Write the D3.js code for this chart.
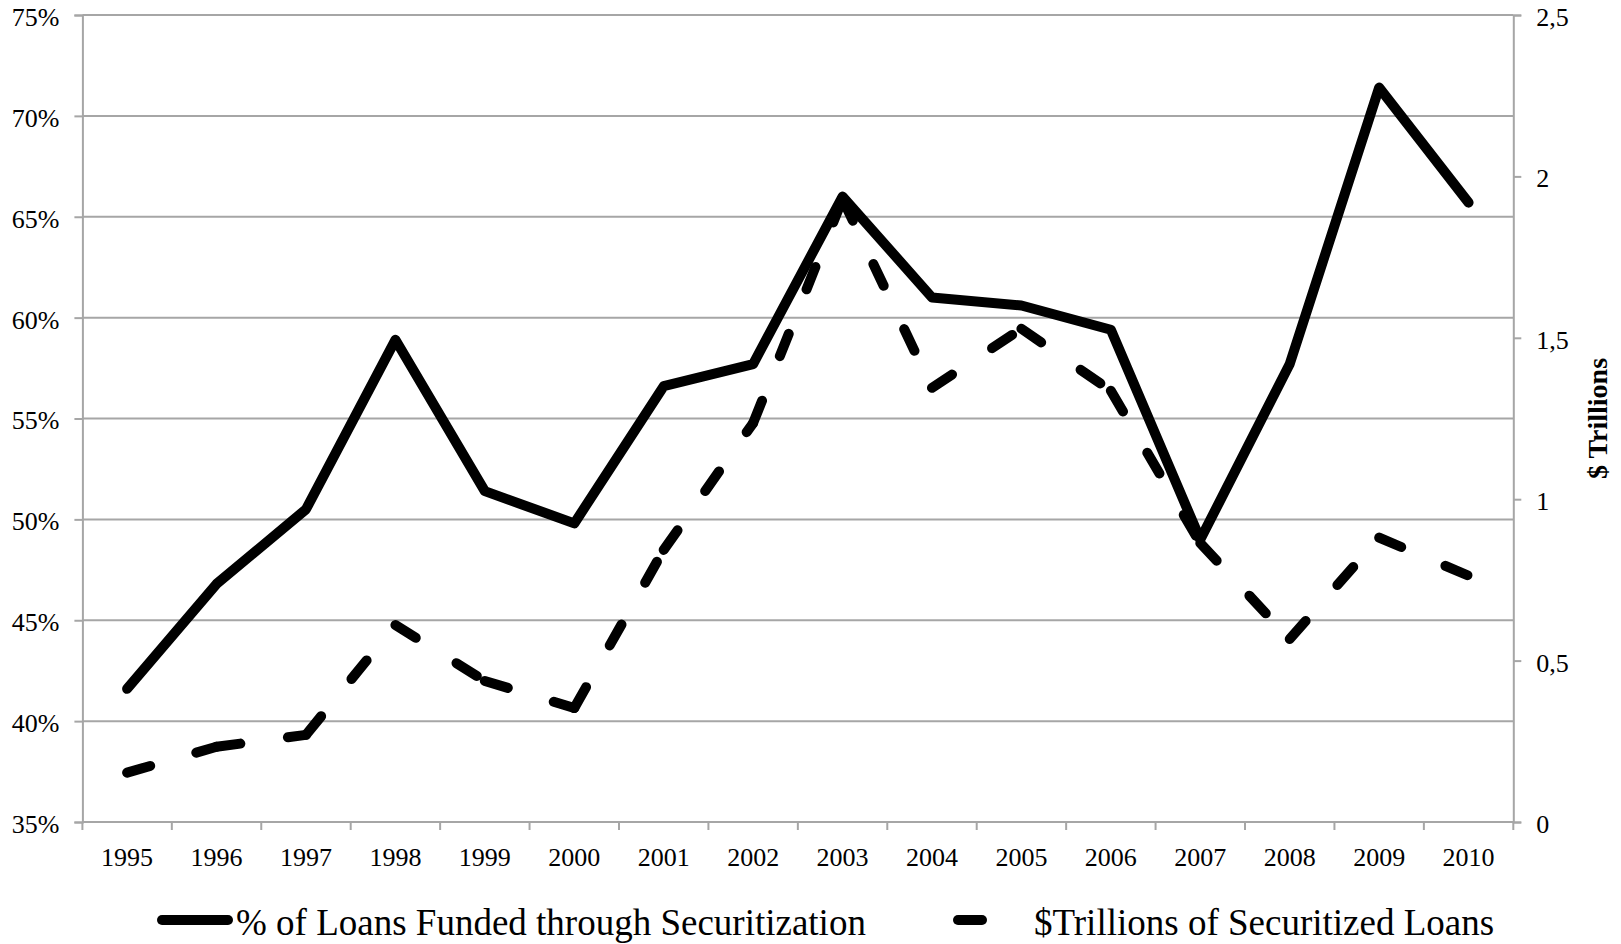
<!DOCTYPE html>
<html>
<head>
<meta charset="utf-8">
<script src="https://cdn.jsdelivr.net/npm/d3@7/dist/d3.min.js"></script>
<style>
  html, body { margin: 0; padding: 0; background: #fff; }
  svg { display: block; }
  text { font-family: "Liberation Serif", "Times New Roman", Times, serif; fill: #000; }
</style>
</head>
<body>
<svg id="chart" width="1621" height="944"></svg>
<script>
// Years on the category axis
const years = ["1995","1996","1997","1998","1999","2000","2001","2002",
               "2003","2004","2005","2006","2007","2008","2009","2010"];

// Share of loans funded through securitization (left axis)
const pctFunded = [0.416, 0.468, 0.505, 0.589, 0.514, 0.498, 0.566, 0.577,
                   0.660, 0.610, 0.606, 0.594, 0.490, 0.577, 0.714, 0.657];

// Securitized loans in $ trillions (right axis)
const trillions = [0.153, 0.233, 0.270, 0.610, 0.437, 0.353, 0.843, 1.236,
                   1.930, 1.345, 1.528, 1.336, 0.864, 0.567, 0.881, 0.763];

// Axis tick values
const leftTicks  = [0.35, 0.40, 0.45, 0.50, 0.55, 0.60, 0.65, 0.70, 0.75];
const rightTicks = [0, 0.5, 1, 1.5, 2, 2.5];

const seriesNames = ["% of Loans Funded through Securitization",
                     "$Trillions of Securitized Loans"];
const rightTitle = "$ Trillions";

const svg = d3.select("#chart");
const plot = { left: 82.4, right: 1513.3, top: 15, bottom: 822 };
const gridColor = "#a6a6a6";
const lineW = 10;

const x = d3.scaleBand().domain(years).range([plot.left, plot.right]).padding(0);
const yL = d3.scaleLinear().domain([0.35, 0.75]).range([plot.bottom, plot.top]);
const yR = d3.scaleLinear().domain([0, 2.5]).range([plot.bottom, plot.top]);
const cx = d => x(d) + x.bandwidth() / 2;

// Horizontal gridlines at the left-axis ticks
svg.append("g").selectAll("line").data(leftTicks).join("line")
  .attr("x1", plot.left).attr("x2", plot.right)
  .attr("y1", d => yL(d)).attr("y2", d => yL(d))
  .attr("stroke", gridColor).attr("stroke-width", 2);

// Left axis
const gL = svg.append("g").attr("transform", `translate(${plot.left},0)`)
  .call(d3.axisLeft(yL).tickValues(leftTicks).tickSize(8).tickPadding(15)
        .tickFormat(d3.format(".0%")));
gL.select(".domain").attr("stroke", gridColor).attr("stroke-width", 2);
gL.selectAll(".tick line").attr("stroke", gridColor).attr("stroke-width", 2);
gL.selectAll(".tick text").attr("font-size", 26).attr("dy", "0.4em")
  .style("font-family", "'Liberation Serif', 'Times New Roman', serif");

// Right axis (decimal comma)
const gR = svg.append("g").attr("transform", `translate(${plot.right},0)`)
  .call(d3.axisRight(yR).tickValues(rightTicks).tickSize(8).tickPadding(15)
        .tickFormat(d => String(d).replace(".", ",")));
gR.select(".domain").attr("stroke", gridColor).attr("stroke-width", 2);
gR.selectAll(".tick line").attr("stroke", gridColor).attr("stroke-width", 2);
gR.selectAll(".tick text").attr("font-size", 26).attr("dy", "0.4em")
  .style("font-family", "'Liberation Serif', 'Times New Roman', serif");

// Bottom axis: ticks between categories, labels centred in each band
const gX = svg.append("g");
gX.append("line")
  .attr("x1", plot.left).attr("x2", plot.right)
  .attr("y1", plot.bottom).attr("y2", plot.bottom)
  .attr("stroke", gridColor).attr("stroke-width", 2);
const boundaries = years.map(d => x(d)).concat([x(years[years.length - 1]) + x.bandwidth()]);
gX.selectAll("line.tick").data(boundaries).join("line").attr("class", "tick")
  .attr("x1", d => d).attr("x2", d => d)
  .attr("y1", plot.bottom).attr("y2", plot.bottom + 8)
  .attr("stroke", gridColor).attr("stroke-width", 2);
gX.selectAll("text").data(years).join("text")
  .attr("x", d => cx(d)).attr("y", 866)
  .attr("text-anchor", "middle").attr("font-size", 26)
  .text(d => d);

// Right axis title
svg.append("text")
  .attr("transform", `translate(1607,${(plot.top + plot.bottom) / 2}) rotate(-90)`)
  .attr("text-anchor", "middle").attr("font-size", 28).attr("font-weight", "bold")
  .text(rightTitle);

// Solid series
const lineL = d3.line().x((d, i) => cx(years[i])).y(d => yL(d));
svg.append("path").datum(pctFunded)
  .attr("d", lineL).attr("fill", "none").attr("stroke", "#000")
  .attr("stroke-width", lineW).attr("stroke-linejoin", "round").attr("stroke-linecap", "round");

// Dashed series: the dash pattern restarts on every segment
const dash = "24,48";
const lineR = d3.line().x(d => cx(d.year)).y(d => yR(d.v));
const pts = trillions.map((v, i) => ({ year: years[i], v }));
const segs = d3.pairs(pts);
svg.append("g").selectAll("path").data(segs).join("path")
  .attr("d", d => lineR(d)).attr("fill", "none").attr("stroke", "#000")
  .attr("stroke-width", lineW).attr("stroke-linecap", "round")
  .attr("stroke-dasharray", dash);

// Legend
const legY = 920;
const leg = svg.append("g");
leg.append("line").attr("x1", 162).attr("x2", 228).attr("y1", legY).attr("y2", legY)
  .attr("stroke", "#000").attr("stroke-width", lineW).attr("stroke-linecap", "round");
leg.append("text").attr("x", 236).attr("y", 935).attr("font-size", 37).text(seriesNames[0]);
leg.append("line").attr("x1", 958).attr("x2", 1028).attr("y1", legY).attr("y2", legY)
  .attr("stroke", "#000").attr("stroke-width", lineW).attr("stroke-linecap", "round")
  .attr("stroke-dasharray", dash);
leg.append("text").attr("x", 1034).attr("y", 935).attr("font-size", 37).text(seriesNames[1]);
</script>
</body>
</html>
